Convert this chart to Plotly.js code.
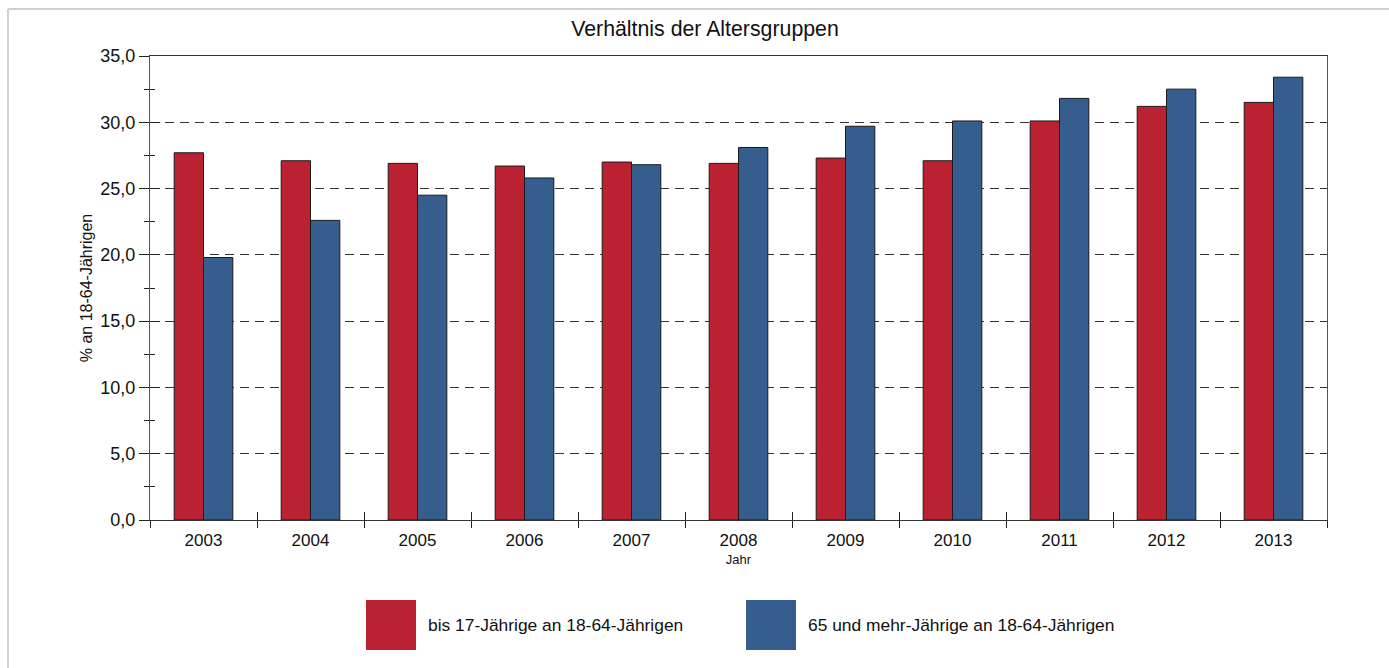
<!DOCTYPE html>
<html>
<head>
<meta charset="utf-8">
<script src="https://cdn.plot.ly/plotly-3.0.1.min.js"></script>
<style>html,body{margin:0;padding:0;background:#fff;}#chart{width:1389px;height:668px;}</style>
</head>
<body>
<div id="chart"></div>
<script>
const years = ["2003","2004","2005","2006","2007","2008","2009","2010","2011","2012","2013"];
const youngRatio = [27.7, 27.1, 26.9, 26.7, 27.0, 26.9, 27.3, 27.1, 30.1, 31.2, 31.5];
const oldRatio = [19.8, 22.6, 24.5, 25.8, 26.8, 28.1, 29.7, 30.1, 31.8, 32.5, 33.4];
const seriesNames = ["bis 17-Jährige an 18-64-Jährigen", "65 und mehr-Jährige an 18-64-Jährigen"];
const seriesColors = ["#BA2231", "#355E8E"];
const chartTitle = "Verhältnis der Altersgruppen";
const yTitle = "% an 18-64-Jährigen";
const xTitle = "Jahr";

const FONT = "'Liberation Sans', Arial, sans-serif";

const traces = [
  {type:"bar", x:years, y:youngRatio, name:seriesNames[0], marker:{color:seriesColors[0], line:{color:"#1a1a1a", width:1}}, showlegend:false, hoverinfo:"x+y"},
  {type:"bar", x:years, y:oldRatio, name:seriesNames[1], marker:{color:seriesColors[1], line:{color:"#1a1a1a", width:1}}, showlegend:false, hoverinfo:"x+y"},
  // invisible helper trace so the overlay axis gets the categories (inside tick halves)
  {type:"scatter", mode:"markers", x:years, y:youngRatio, xaxis:"x2", yaxis:"y2", marker:{opacity:0}, showlegend:false, hoverinfo:"skip"}
];

const shapes = [
  {type:"line", xref:"paper", yref:"paper", x0:-142/1177, x1:1.2, y0:(520-9)/464, y1:(520-9)/464, line:{color:"#d0d0d0", width:2}},
  {type:"line", xref:"paper", yref:"paper", x0:-142/1177, x1:-142/1177, y0:(520-9)/464, y1:-1, line:{color:"#d0d0d0", width:2}}
];
const annotations = [];
const legX = [366, 746];
for (let i = 0; i < 2; i++) {
  const x0 = (legX[i]-150)/1177, x1 = (legX[i]+50-150)/1177;
  shapes.push({type:"rect", xref:"paper", yref:"paper", x0:x0, x1:x1, y0:(520-600)/464, y1:(520-650)/464, fillcolor:seriesColors[i], line:{width:0}});
  annotations.push({xref:"paper", yref:"paper", x:(legX[i]+60-150)/1177, y:(520-625)/464, xanchor:"left", yanchor:"middle", showarrow:false, text:seriesNames[i], font:{family:FONT, size:17.4, color:"#111"}});
}

const layout = {
  width:1389, height:668,
  margin:{l:150, r:62, t:56, b:148},
  paper_bgcolor:"#fff", plot_bgcolor:"#fff",
  separators:",.",
  font:{family:FONT, color:"#111"},
  title:{text:chartTitle, x:705/1389, xref:"container", xanchor:"center", y:1-29/668, yanchor:"middle", font:{family:FONT, size:21.3, color:"#111"}},
  barmode:"group", bargap:0.452, bargroupgap:0,
  xaxis:{type:"category", categoryorder:"array", categoryarray:years, range:[-0.5,10.5],
         showline:true, linecolor:"#333", linewidth:1, mirror:true,
         ticks:"outside", ticklen:7, tickcolor:"#222", tickson:"boundaries", ticklabelstandoff:5,
         tickfont:{family:FONT, size:17, color:"#111"}, showgrid:false,
         title:{text:xTitle, font:{family:FONT, size:13, color:"#111"}, standoff:5}},
  yaxis:{range:[0,35], dtick:5, tick0:0, tickformat:".1f", showline:true, linecolor:"#555", linewidth:1, mirror:true,
         ticks:"outside", ticklen:10, tickcolor:"#222",
         minor:{dtick:2.5, ticks:"outside", ticklen:5, tickcolor:"#222", showgrid:false},
         showgrid:true, gridcolor:"#333", griddash:"9px,6px", gridwidth:1, zeroline:false,
         tickfont:{family:FONT, size:18, color:"#111"},
         title:{text:yTitle, font:{family:FONT, size:16, color:"#111"}, standoff:3}},
  xaxis2:{type:"category", categoryorder:"array", categoryarray:years, range:[-0.5,10.5], overlaying:"x", anchor:"y2",
          ticks:"inside", ticklen:8, tickcolor:"#222", tickson:"boundaries", showticklabels:false, showgrid:false, showline:false, zeroline:false},
  yaxis2:{range:[0,35], dtick:5, overlaying:"y", anchor:"x2", side:"left", ticks:"inside", ticklen:10, tickcolor:"#222",
          minor:{dtick:2.5, ticks:"inside", ticklen:5, tickcolor:"#222", showgrid:false},
          showticklabels:false, showgrid:false, showline:false, zeroline:false},
  shapes:shapes, annotations:annotations,
  showlegend:false
};

Plotly.newPlot("chart", traces, layout, {displayModeBar:false, staticPlot:true});
</script>
</body>
</html>
